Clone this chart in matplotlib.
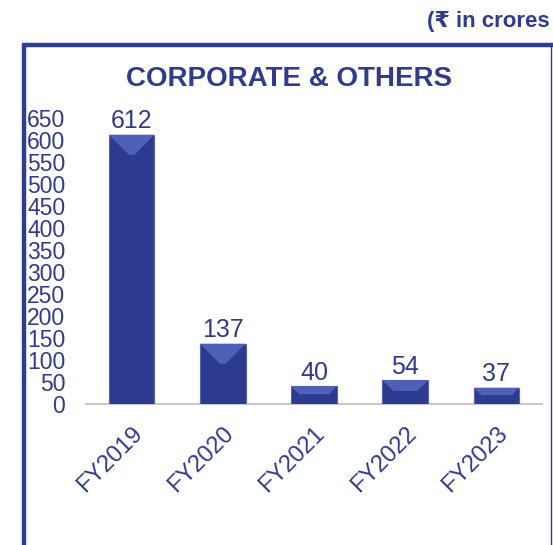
import matplotlib
matplotlib.use("Agg")
import matplotlib.pyplot as plt
from matplotlib.lines import Line2D
from matplotlib.patches import Polygon
import numpy as np

categories = ["FY2019", "FY2020", "FY2021", "FY2022", "FY2023"]
values = [612, 137, 40, 54, 37]
yticks = list(range(0, 651, 50))
title = "CORPORATE & OTHERS"
unit_note = "(₹ in crores"

TXT = "#2E3B8E"
BAR = "#2C3A8F"
BEVEL = "#4F60B8"
FONT = ["Liberation Sans", "DejaVu Sans"]

plt.rcParams["font.family"] = FONT

W, H = 553, 545
fig = plt.figure(figsize=(W / 100, H / 100), dpi=100)
fig.patch.set_facecolor("white")

ax = fig.add_axes([86 / W, (H - 404) / H, 456 / W, 286 / H])
ax.set_facecolor("none")
x = np.arange(len(categories))
bars = ax.bar(x, values, width=0.5, color=BAR, edgecolor="#5566B0", linewidth=0.8, zorder=3)
ax.set_xlim(-0.5, len(categories) - 0.5)
ax.set_ylim(0, 650)
ax.set_yticks(yticks)
ax.set_yticklabels([str(v) for v in yticks], fontsize=16.5, color=TXT)
ax.tick_params(axis="y", length=0, pad=15)
ax.set_xticks(x)
ax.set_xticklabels(categories, rotation=45, ha="right", va="top",
                   rotation_mode="anchor", fontsize=17, color=TXT)
ax.tick_params(axis="x", length=0, pad=13)
for s in ["top", "right", "left"]:
    ax.spines[s].set_visible(False)
ax.spines["bottom"].set_color("#C8C8C8")
ax.spines["bottom"].set_linewidth(1.5)

# bevel effect on top of each bar (derived from bar geometry)
ppx = 456 / (len(categories))  # pixels per category unit
ppy = 286 / 650  # pixels per value unit
for b in bars:
    x0 = b.get_x(); x1 = x0 + b.get_width(); top = b.get_height()
    hpx = top * ppy
    dpx = min(20, hpx * 0.45)
    dx = dpx / ppx; dy = dpx / ppy
    ax.add_patch(Polygon([(x0, top), (x1, top), (x1 - dx, top - dy), (x0 + dx, top - dy)],
                         closed=True, facecolor=BEVEL, edgecolor="none", zorder=4))
    ax.text(b.get_x() + b.get_width() / 2, top + 3, str(int(top)), ha="center", va="bottom",
            fontsize=18, color=TXT, zorder=5)

# title and unit note
fig.text(289 / W, 1 - 79 / H, title, ha="center", va="center", fontsize=20,
         fontweight="bold", color=TXT)
fig.text(427 / W, 1 - 22 / H, unit_note, ha="left", va="center", fontsize=16,
         fontweight="bold", color=TXT)

# panel frame
fig.add_artist(Line2D([22 / W, 1], [1 - 45 / H, 1 - 45 / H], color="#2E3D92", lw=3.2,
                      transform=fig.transFigure, solid_capstyle="butt"))
fig.add_artist(Line2D([24 / W, 24 / W], [1 - 43.5 / H, 0], color="#2E3D92", lw=3.2,
                      transform=fig.transFigure, solid_capstyle="butt"))
fig.add_artist(Line2D([551 / W, 551 / W], [1 - 45 / H, 0], color="#2E3D92", lw=1.0,
                      transform=fig.transFigure))

fig.savefig("out.png", dpi=100)
